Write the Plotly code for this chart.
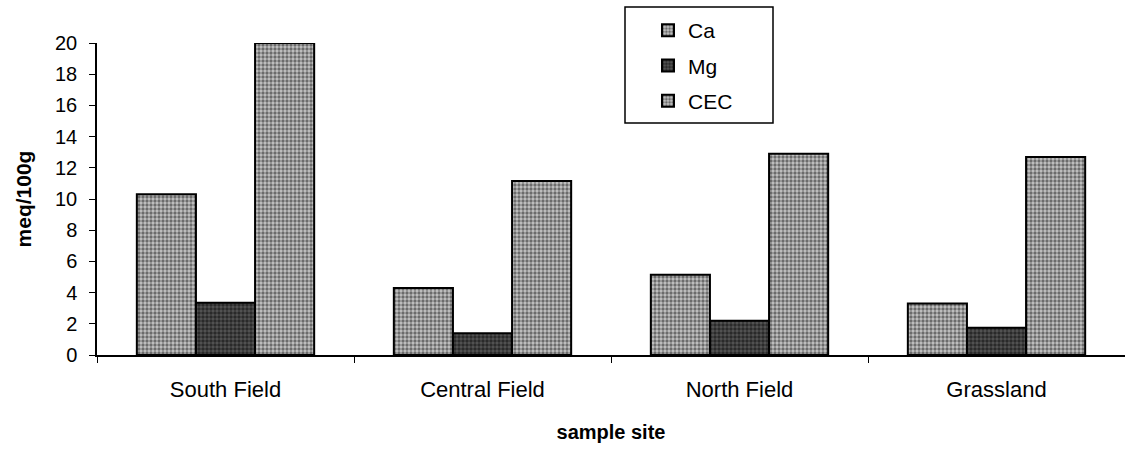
import plotly.graph_objects as go

sites = ["South Field", "Central Field", "North Field", "Grassland"]
ca = [10.3, 4.3, 5.15, 3.3]
mg = [3.35, 1.4, 2.2, 1.75]
cec = [20.0, 11.15, 12.9, 12.7]
yticks = [0, 2, 4, 6, 8, 10, 12, 14, 16, 18, 20]

FONT = "Arial, Liberation Sans, sans-serif"

# plot area in pixels
L, R, T, B = 97, 0, 43, 95
W, H = 1125, 450
PW, PH = W - L - R, H - T - B

def px_x(p):
    return (p - L) / PW

def px_y(p):
    return (H - B - p) / PH

def bar(name, vals, bg, fg, sol):
    return go.Bar(
        name=name, x=sites, y=vals, legendgroup=name,
        marker=dict(
            color=bg,
            line=dict(color="black", width=2),
            pattern=dict(shape=".", fgcolor=fg, bgcolor=bg, size=4, solidity=sol),
        ),
    )

fig = go.Figure([
    bar("Ca", ca, "#c4c4c4", "#111111", 0.55),
    bar("Mg", mg, "#555555", "#000000", 0.6),
    bar("CEC", cec, "#c4c4c4", "#111111", 0.55),
])

fig.add_shape(
    type="rect", xref="paper", yref="paper",
    x0=px_x(625), x1=px_x(773), y0=px_y(123), y1=px_y(7),
    line=dict(color="black", width=1.5), fillcolor="white", layer="below",
)

fig.update_layout(
    width=W, height=H,
    barmode="group", bargap=0.31, bargroupgap=0,
    plot_bgcolor="white", paper_bgcolor="white",
    margin=dict(l=L, r=R, t=T, b=B),
    font=dict(family=FONT, size=20, color="black"),
    legend=dict(
        x=px_x(648), y=px_y(10), xanchor="left", yanchor="top",
        borderwidth=0, bgcolor="rgba(0,0,0,0)",
        font=dict(size=21), itemwidth=30, tracegroupgap=5,
    ),
    xaxis=dict(
        showline=True, linecolor="black", linewidth=1.5,
        ticks="outside", tickson="boundaries", ticklen=6, tickcolor="black",
        ticklabelstandoff=14,
        title=dict(text="<b>sample site</b>", font=dict(size=20), standoff=24),
        tickfont=dict(size=22),
    ),
    yaxis=dict(
        range=[0, 20], tickvals=yticks, ticktext=[str(v) for v in yticks],
        showline=True, linecolor="black", linewidth=1.5,
        ticks="outside", ticklen=6, tickcolor="black", ticklabelstandoff=8,
        showgrid=False, zeroline=False,
        title=dict(text="<b>meq/100g</b>", font=dict(size=21), standoff=18),
        tickfont=dict(size=20),
    ),
    showlegend=True,
)

fig.write_html("out.html")
